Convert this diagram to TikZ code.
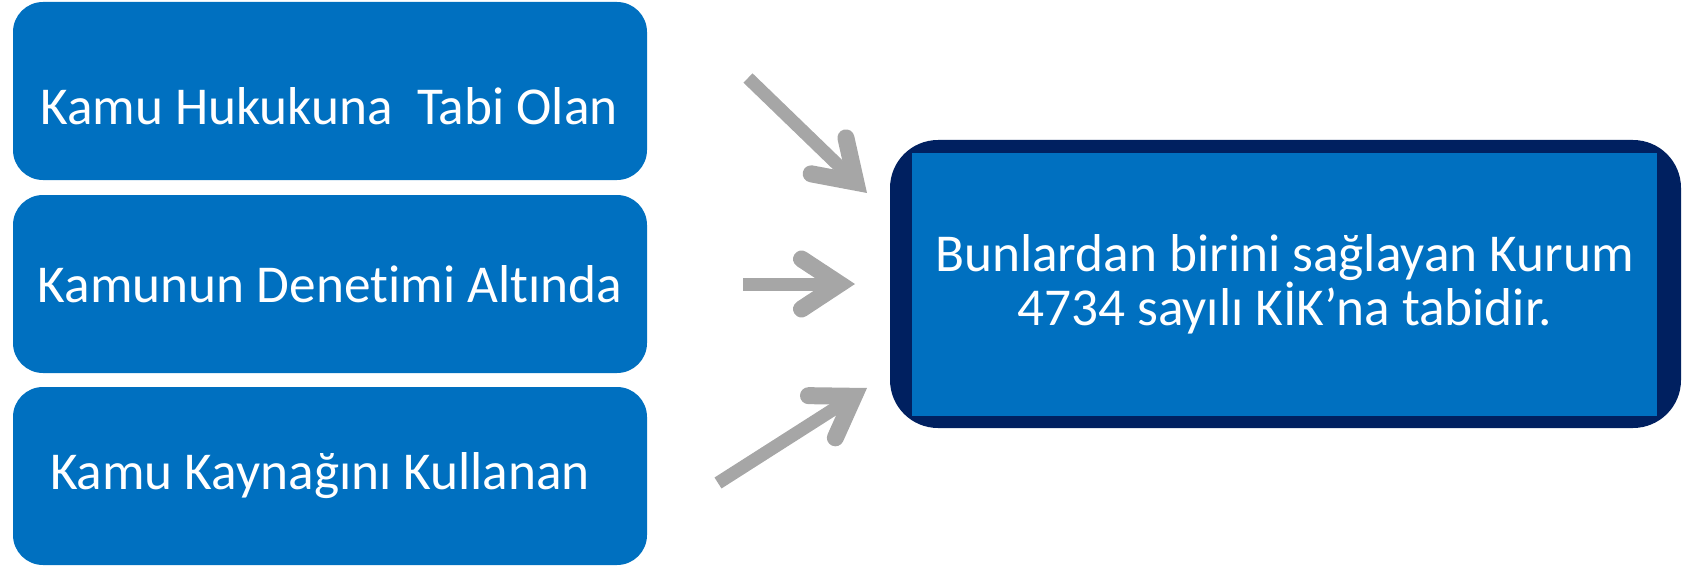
\documentclass[tikz,border=0pt]{standalone}
\usepackage{fontspec}
\setmainfont{Carlito}[Ligatures=NoCommon, RawFeature={-liga;-clig;-dlig}]
\usepackage{tikz}
\usetikzlibrary{calc,arrows.meta}
\definecolor{kutumavi}{HTML}{0070C0}
\definecolor{lacivert}{HTML}{002060}
\definecolor{okgri}{HTML}{A6A6A6}

\begin{document}
\begin{tikzpicture}[x=1pt, y=-1pt,
  kutu/.style={fill=kutumavi, rounded corners=30pt, minimum width=634pt, minimum height=178pt,
    inner sep=0pt},
  yazi/.style={text=white, font=\fontsize{53.3}{52}\selectfont},
  ok/.style={draw=okgri, line width=13pt,
    -{Straight Barb[length=38pt, width=50pt, line width=17pt, line cap=round, line join=miter]}}]
  \useasboundingbox (0,0) rectangle (1686,567);

  % Left boxes
  \draw (330,91)  node[kutu] (hukuk) {};
  \draw (330,284) node[kutu] (denetim) {};
  \draw (330,476) node[kutu] (kaynak) {};
  \draw (329,106) node[yazi] (hukukt) {Kamu Hukukuna\ \ Tabi Olan};
  \draw (denetim.center) node[yazi] (denetimt) {Kamunun Denetimi Altında};
  \draw (320,476) node[yazi] (kaynakt) {Kamu Kaynağını Kullanan};

  % Result box
  \draw (1285.5,284) node[fill=lacivert, rounded corners=48pt, minimum width=791pt, minimum height=288pt,
    inner sep=0pt] (sonuc) {};
  \draw (1284.5,284.5) node[yazi, fill=kutumavi, minimum width=745pt, minimum height=263pt, inner sep=0pt,
    align=center] (sonuct)
    {Bunlardan birini sağlayan Kurum\\4734 sayılı KİK’na tabidir.};

  % Arrows
  \coordinate (o1a) at (748,78);  \coordinate (o1b) at (867,193);
  \coordinate (o2a) at (743,284); \coordinate (o2b) at (855,284);
  \coordinate (o3a) at (718,483); \coordinate (o3b) at (867,388);
  \draw[ok] (o1a) -- (o1b);
  \draw[ok] (o2a) -- (o2b);
  \draw[ok] (o3a) -- (o3b);
\end{tikzpicture}
\end{document}
